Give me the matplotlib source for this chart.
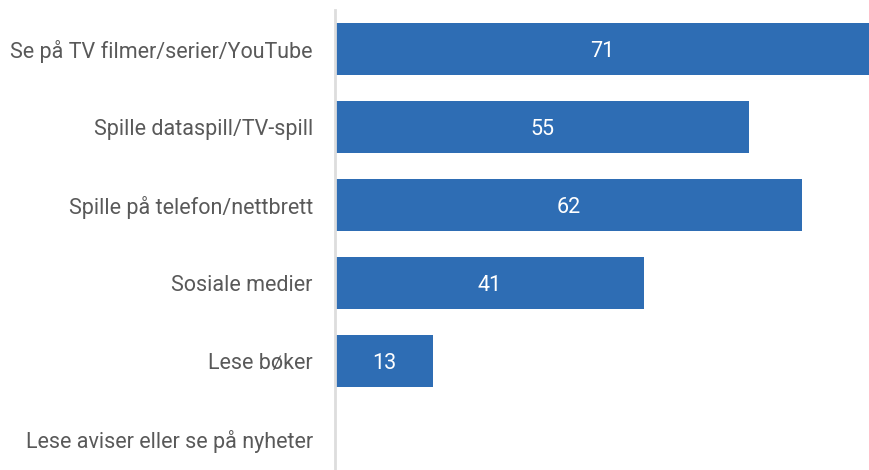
import matplotlib
matplotlib.use("Agg")
import matplotlib.pyplot as plt

# Data
categories = ["Se på TV filmer/serier/YouTube", "Spille dataspill/TV-spill",
              "Spille på telefon/nettbrett", "Sosiale medier", "Lese bøker",
              "Lese aviser eller se på nyheter"]
values = [71, 55, 62, 41, 13, 0]

plt.rcParams['font.family'] = ['Roboto', 'DejaVu Sans']

fig = plt.figure(figsize=(8.7, 4.7), dpi=100)
ax = fig.add_axes([335/870, 1-478/470, 1-335/870, 468/470])

bars = ax.barh(range(len(categories)), values, height=0.67, color='#2E6DB4')
for i, v in enumerate(values):
    if v > 0:
        ax.text(v/2, i, str(v), ha='center', va='center_baseline', color='white', fontsize=15.5)

ax.set_xlim(0, 71)
ax.set_ylim(len(categories)-0.5, -0.5)
ax.set_yticks(range(len(categories)))
ax.set_yticklabels(categories, fontsize=15.5, color='#595959')
ax.tick_params(axis='y', length=0, pad=16)
ax.set_xticks([])
for s in ['top', 'right', 'bottom']:
    ax.spines[s].set_visible(False)
ax.spines['left'].set_color('#dddddd')
ax.spines['left'].set_linewidth(2)

fig.savefig("out.png", dpi=100)
